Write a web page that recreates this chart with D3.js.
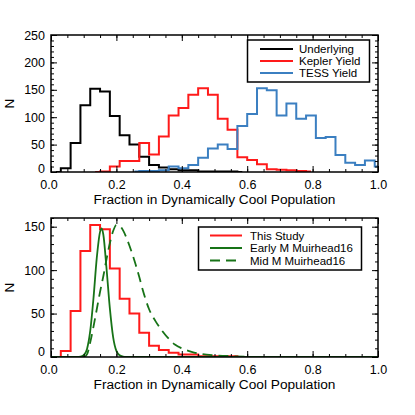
<!DOCTYPE html>
<html>
<head>
<meta charset="utf-8">
<script src="https://cdn.jsdelivr.net/npm/d3@7"></script>
<style>
body { margin:0; background:#fff; }
text { font-family:"Liberation Sans", Arial, Helvetica, sans-serif; fill:#000; }
</style>
</head>
<body>
<svg id="chart"></svg>
<script>
// histogram bin centres (bin width 0.03), null = outside the plotted range
var binCenters = [0.015,0.045,0.075,0.105,0.135,0.165,0.195,0.225,0.255,0.285,0.315,0.345,
    0.375,0.405,0.435,0.465,0.495,0.525,0.555,0.585,0.615,0.645,0.675,0.705,0.735,0.765,
    0.795,0.825,0.855,0.885,0.915,0.945,0.975,1.005];

var underlying = [0,7,53,122,152,147,102,67,50,28,13,8,5,3,3,1,1,1,1,0,
    null,null,null,null,null,null,null,null,null,null,null,null,null,null];

var keplerYield = [null,null,null,null,0,1,10,20,20,53,32,65,103,117,141,153,141,97,77,27,
    22,14,5,4,3,2,1,null,null,null,null,null,null,null];

var tessYield = [null,null,null,null,null,null,null,null,1,2,2,3,10,7,13,26,43,50,42,84,
    106,153,149,103,125,97,103,62,64,31,17,13,21,10];

// Muirhead16 curves
var earlyMX = [0.0,0.08,0.09,0.10,0.11,0.12,0.13,0.14,0.15,0.155,0.16,0.17,0.18,0.19,0.20,0.21,0.22,0.23,0.25,1.0];
var earlyMN = [0,0,0.3,2,9,30,68,114,144,148,141,101,56,23,7,2,0.5,0,0,0];

var midMX = [0.0,0.10,0.11,0.12,0.13,0.14,0.15,0.16,0.17,0.18,0.19,0.20,0.21,0.22,0.23,0.24,0.25,0.26,
    0.27,0.28,0.30,0.32,0.34,0.36,0.38,0.40,0.43,0.46,0.50,0.55,0.60,0.65,1.0];
var midMN = [0,0,3,17,35,55,75,93,113,131,145,152,151,146,138,128,117,105,
    92,78,55,41,30,21,14,10,6,3.5,2,1,0.3,0,0];

var xTicks = [0.0,0.2,0.4,0.6,0.8,1.0];
var topYTicks = [0,50,100,150,200,250];
var bottomYTicks = [0,50,100,150];

var topLegend = ["Underlying","Kepler Yield","TESS Yield"];
var bottomLegend = ["This Study","Early M Muirhead16","Mid M Muirhead16"];

var RED = "#ff1a1a", BLUE = "#3b7fc1", GREEN = "#177317";
var xLabel = "Fraction in Dynamically Cool Population";

var svg = d3.select("#chart").attr("width",415).attr("height",415);
svg.append("rect").attr("width",415).attr("height",415).attr("fill","#fff");

var left = 51, right = 378;
var xScale = d3.scaleLinear().domain([0,1]).range([left,right]);

var drawAxes = function(g, yScale, yTicks, yMax, top, bottom, zeroShift)
{
    var minorX = d3.range(0,1.0001,0.05);
    var minorY = d3.range(0,yMax+0.001,10);

    var axes = [
        [d3.axisBottom(xScale).tickValues(xTicks).tickSize(-6).tickPadding(8).tickFormat(d3.format(".1f")), "translate(0,"+bottom+")", "xb"],
        [d3.axisBottom(xScale).tickValues(minorX).tickSize(-3).tickFormat(""), "translate(0,"+bottom+")"],
        [d3.axisTop(xScale).tickValues(xTicks).tickSize(-6).tickFormat(""), "translate(0,"+top+")"],
        [d3.axisTop(xScale).tickValues(minorX).tickSize(-3).tickFormat(""), "translate(0,"+top+")"],
        [d3.axisLeft(yScale).tickValues(yTicks).tickSize(-6).tickPadding(6).tickFormat(d3.format("d")), "translate("+left+",0)", "yl"],
        [d3.axisLeft(yScale).tickValues(minorY).tickSize(-3).tickFormat(""), "translate("+left+",0)"],
        [d3.axisRight(yScale).tickValues(yTicks).tickSize(-6).tickFormat(""), "translate("+right+",0)"],
        [d3.axisRight(yScale).tickValues(minorY).tickSize(-3).tickFormat(""), "translate("+right+",0)"]
    ];
    axes.forEach(function(a)
    {
        var ax = g.append("g").attr("transform",a[1]).call(a[0]);
        ax.select(".domain").remove();
        ax.selectAll("line").attr("stroke","#000").attr("stroke-width",1);
        ax.selectAll("text").attr("font-size","12.5px").attr("fill","#000")
          .attr("font-family","'Liberation Sans', Arial, sans-serif");
        if (a[2] == "yl") {
            // lowest label sits above the bottom axis line
            ax.selectAll("text").filter(function(d){ return d === 0; })
              .attr("transform","translate(0,"+(-zeroShift)+")");
        }
        if (a[2] == "xb") {
            ax.selectAll("text").filter(function(d){ return d === 0; })
              .attr("dx","-2.5");
        }
    });

    g.append("rect")
    .attr("x",left).attr("y",top)
    .attr("width",right-left).attr("height",bottom-top)
    .attr("fill","none").attr("stroke","#000").attr("stroke-width",1.5);

    g.append("text")
    .text(xLabel)
    .attr("x",(left+right)/2).attr("y",bottom+32)
    .attr("text-anchor","middle").attr("font-size","13.7px");

    g.append("g")
    .attr("transform","translate(14,"+((top+bottom)/2)+")")
        .append("text")
        .text("N")
        .attr("text-anchor","middle")
        .attr("font-size","13.5px")
        .attr("transform","rotate(270)");
}

var histLine = function(g, yScale, values, color)
{
    var pts = binCenters.map(function(c,i){ return {x:c, y:values[i]}; });
    var line = d3.line()
        .defined(function(d){ return d.y !== null; })
        .x(function(d){ return xScale(d.x); })
        .y(function(d){ return yScale(d.y); })
        .curve(d3.curveStep);
    g.append("path")
    .datum(pts)
    .attr("d",line)
    .attr("fill","none")
    .attr("stroke",color)
    .attr("stroke-width",2);
}

var curveLine = function(g, yScale, xs, ns, color, dash)
{
    var pts = xs.map(function(x,i){ return {x:x, y:ns[i]}; });
    var line = d3.line()
        .x(function(d){ return xScale(d.x); })
        .y(function(d){ return yScale(d.y); })
        .curve(d3.curveMonotoneX);
    g.append("path")
    .datum(pts)
    .attr("d",line)
    .attr("fill","none")
    .attr("stroke",color)
    .attr("stroke-width",1.8)
    .attr("stroke-dasharray",dash);
}

var drawLegend = function(g, box, names, colors, dashes, lineX, textX, rowY)
{
    g.append("rect")
    .attr("x",box.x).attr("y",box.y).attr("width",box.w).attr("height",box.h)
    .attr("fill","#fff").attr("stroke","#000").attr("stroke-width",1.5);

    names.forEach(function(name,i)
    {
        g.append("line")
        .attr("x1",lineX[0]).attr("x2",lineX[1])
        .attr("y1",rowY[i]).attr("y2",rowY[i])
        .attr("stroke",colors[i]).attr("stroke-width",2)
        .attr("stroke-dasharray",dashes[i]);
        g.append("text")
        .text(name)
        .attr("x",textX).attr("y",rowY[i]).attr("dy","0.36em")
        .attr("font-size","11.5px");
    });
}

// ---- top panel ----
var topPanel = {top:35, bottom:172};
var yTop = d3.scaleLinear().domain([0,250]).range([topPanel.bottom,topPanel.top]);
var gTop = svg.append("g");
gTop.append("clipPath").attr("id","clipTop").append("rect")
    .attr("x",left).attr("y",topPanel.top).attr("width",right-left).attr("height",topPanel.bottom-topPanel.top);
var dataTop = gTop.append("g").attr("clip-path","url(#clipTop)");
histLine(dataTop, yTop, underlying, "#000");
histLine(dataTop, yTop, keplerYield, RED);
histLine(dataTop, yTop, tessYield, BLUE);
drawAxes(gTop, yTop, topYTicks, 250, topPanel.top, topPanel.bottom, 4);
drawLegend(gTop, {x:247.5,y:40,w:122,h:42}, topLegend, ["#000",RED,BLUE], [null,null,null],
    [260,293], 299, [49,61,73]);

// ---- bottom panel ----
var botPanel = {top:218, bottom:357};
var yBot = d3.scaleLinear().domain([0,160]).range([botPanel.bottom,botPanel.top]);
var gBot = svg.append("g");
gBot.append("clipPath").attr("id","clipBot").append("rect")
    .attr("x",left).attr("y",botPanel.top).attr("width",right-left).attr("height",botPanel.bottom-botPanel.top);
var dataBot = gBot.append("g").attr("clip-path","url(#clipBot)");
histLine(dataBot, yBot, underlying, RED);
curveLine(dataBot, yBot, earlyMX, earlyMN, GREEN, null);
curveLine(dataBot, yBot, midMX, midMN, GREEN, "10,6");
drawAxes(gBot, yBot, bottomYTicks, 160, botPanel.top, botPanel.bottom, 6);
drawLegend(gBot, {x:198.5,y:227,w:163,h:43}, bottomLegend, [RED,GREEN,GREEN], [null,null,"10,6"],
    [210,242], 250, [235.5,248,260.5]);
</script>
</body>
</html>
